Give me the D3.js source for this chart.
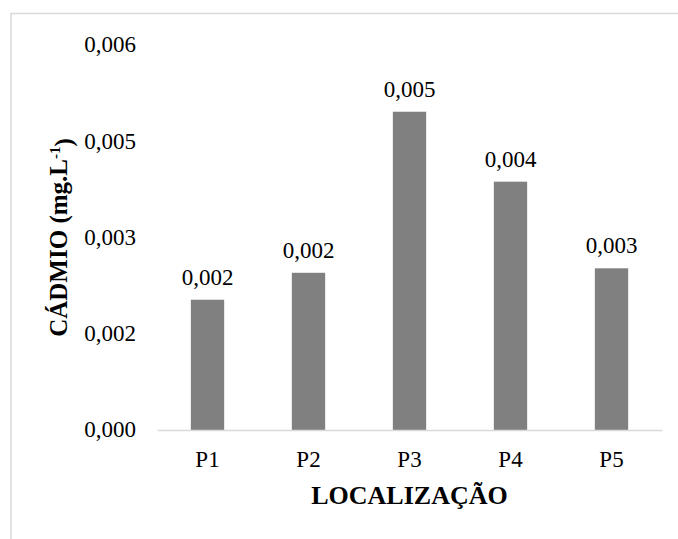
<!DOCTYPE html>
<html>
<head>
<meta charset="utf-8">
<script src="https://cdn.jsdelivr.net/npm/d3@7"></script>
<style>
  body { margin: 0; background: #fff; }
</style>
</head>
<body>
<div id="chart"></div>
<script>
// data
let categories = ["P1", "P2", "P3", "P4", "P5"];
let cadmio = [0.00203, 0.00245, 0.00496, 0.00387, 0.00252];
let tickValues = [0, 0.0015, 0.003, 0.0045, 0.006];
let tickLabels = ["0,000", "0,002", "0,003", "0,005", "0,006"];

let svgWidth = 678;
let svgHeight = 539;
let margin = { top: 45, right: 16, bottom: 109, left: 157 };
let width = svgWidth - margin.left - margin.right;
let height = svgHeight - margin.top - margin.bottom;
let serif = '"Liberation Serif"';

let ptBR = d3.formatLocale({ decimal: ",", thousands: ".", grouping: [3], currency: ["R$", ""] });
let fmt = ptBR.format(".3f");

let svg = d3.select("#chart")
    .append("svg")
    .attr("width", svgWidth)
    .attr("height", svgHeight);

// outer chart frame (cut off at right and bottom in the reference)
svg.append("rect")
    .attr("x", 11)
    .attr("y", 13.5)
    .attr("width", 700)
    .attr("height", 600)
    .attr("fill", "none")
    .attr("stroke", "#d9d9d9")
    .attr("stroke-width", 1.5);

let chartGroup = svg.append("g")
    .attr("transform", `translate(${margin.left}, ${margin.top})`);

let xScale = d3.scaleBand()
    .domain(categories)
    .range([0, width])
    .paddingInner(0.67)
    .paddingOuter(0.335);

let yScale = d3.scaleLinear()
    .domain([0, 0.006])
    .range([height, 0]);

// y axis: labels only
let leftAxis = d3.axisLeft(yScale)
    .tickValues(tickValues)
    .tickFormat((d, i) => tickLabels[i])
    .tickSize(0)
    .tickPadding(21);

let yAxisG = chartGroup.append("g").call(leftAxis);
yAxisG.select(".domain").remove();
yAxisG.attr("font-family", null).attr("font-size", null);
yAxisG.selectAll("text")
    .style("font-family", serif)
    .style("font-size", "23px")
    .style("fill", "#000")
    .attr("dy", "0.3em");

// bars
chartGroup.selectAll("rect.bar")
    .data(cadmio)
    .enter()
    .append("rect")
    .attr("class", "bar")
    .attr("x", (d, i) => xScale(categories[i]))
    .attr("y", d => yScale(d))
    .attr("width", xScale.bandwidth())
    .attr("height", d => height - yScale(d))
    .attr("fill", "#808080");

// x axis
let bottomAxis = d3.axisBottom(xScale).tickSize(0).tickPadding(21);
let xAxisG = chartGroup.append("g")
    .attr("transform", `translate(0, ${height})`)
    .call(bottomAxis);
xAxisG.attr("font-family", null).attr("font-size", null);
xAxisG.select(".domain")
    .attr("stroke", "#d9d9d9")
    .attr("stroke-width", 1.5);
xAxisG.selectAll("text")
    .style("font-family", serif)
    .style("font-size", "23px")
    .style("fill", "#000");

// value labels
chartGroup.selectAll("text.val")
    .data(cadmio)
    .enter()
    .append("text")
    .attr("class", "val")
    .attr("x", (d, i) => xScale(categories[i]) + xScale.bandwidth() / 2)
    .attr("y", d => yScale(d) - 15)
    .attr("text-anchor", "middle")
    .style("font-family", serif)
    .style("font-size", "23px")
    .text(d => fmt(d));

// axis titles
chartGroup.append("text")
    .attr("x", width / 2)
    .attr("y", height + 74)
    .attr("text-anchor", "middle")
    .style("font-family", serif)
    .style("font-size", "26px")
    .style("font-weight", "bold")
    .text("LOCALIZAÇÃO");

let yTitle = chartGroup.append("text")
    .attr("transform", `translate(${67 - margin.left}, ${height / 2}) rotate(-90)`)
    .attr("text-anchor", "middle")
    .style("font-family", serif)
    .style("font-size", "25px")
    .style("font-weight", "bold");
yTitle.append("tspan").text("CÁDMIO (mg.L");
yTitle.append("tspan").attr("dy", "-0.5em").style("font-size", "15px").text("-1");
yTitle.append("tspan").attr("dy", "0.5em").text(")");
</script>
</body>
</html>
